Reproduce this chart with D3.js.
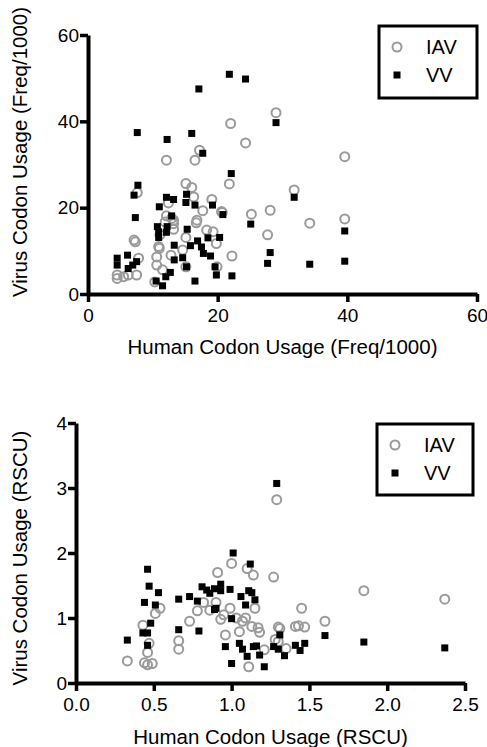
<!DOCTYPE html>
<html>
<head>
<meta charset="utf-8">
<script src="https://cdn.jsdelivr.net/npm/d3@7"></script>
<style>
  body { margin: 0; background: #fff; }
  text { font-family: "Liberation Sans", Arial, sans-serif; fill: #000; }
</style>
</head>
<body>
<svg id="chart" width="487" height="747"></svg>
<script>
// top panel: codon frequency per 1000
const freqIAV = [
  [4.5, 4.4], [4.5, 3.6], [6.2, 4.4], [7.5, 4.4], [7.8, 8.3], [7.3, 12.1], [7.1, 12.5], [7.6, 23.5],
  [12.1, 31.0], [16.5, 31.0], [17.2, 33.3], [22.0, 39.5], [24.3, 35.0], [29.0, 42.0], [21.8, 25.5],
  [15.1, 25.6], [16.0, 24.7], [16.3, 22.5], [17.7, 19.3], [19.1, 21.9], [20.6, 19.1], [25.2, 18.5],
  [28.1, 19.4], [27.7, 13.7], [22.2, 8.8], [12.4, 21.1], [12.1, 18.1], [13.2, 17.1], [13.2, 16.3],
  [13.2, 15.0], [16.8, 17.1], [16.7, 16.5], [18.3, 14.8], [19.3, 14.4], [19.8, 11.7], [15.1, 13.1],
  [11.1, 13.7], [11.0, 10.6], [10.6, 8.6], [12.8, 9.0], [11.5, 5.6], [15.1, 6.3], [19.9, 6.3],
  [14.6, 10.2], [10.3, 2.8], [31.8, 24.1], [34.2, 16.4], [39.6, 31.8], [39.6, 17.4], [10.9, 11.0],
  [10.6, 6.7], [11.9, 16.7], [12.9, 17.5], [5.5, 4.0], [20.7, 18.9]
];
const freqVV = [
  [4.5, 8.3], [4.5, 6.7], [6.1, 9.0], [6.2, 5.9], [6.9, 6.7], [7.5, 7.5], [7.6, 37.4], [7.7, 25.2],
  [7.1, 22.9], [7.3, 17.7], [12.2, 35.8], [16.0, 37.2], [17.1, 47.5], [17.7, 32.6], [21.8, 50.9],
  [24.3, 49.8], [29.0, 39.7], [22.1, 27.9], [11.0, 20.2], [12.1, 22.4], [13.2, 21.9], [15.2, 23.1],
  [15.1, 21.2], [16.5, 20.6], [19.2, 20.6], [20.8, 18.4], [12.9, 18.1], [10.7, 15.6], [10.9, 14.4],
  [10.9, 13.1], [12.2, 15.6], [12.1, 14.3], [15.3, 15.0], [13.3, 11.3], [16.9, 12.3], [15.8, 11.2],
  [17.5, 10.9], [17.8, 9.4], [18.9, 8.8], [18.5, 13.0], [20.3, 13.1], [14.6, 8.4], [13.3, 7.9],
  [15.2, 6.3], [19.6, 6.3], [19.8, 4.4], [22.2, 4.2], [16.5, 3.0], [12.7, 5.0], [12.0, 4.0],
  [10.5, 3.0], [11.5, 1.9], [25.1, 16.2], [28.1, 9.6], [27.7, 7.1], [31.8, 22.4], [34.2, 6.9],
  [39.6, 14.6], [39.6, 7.6]
];

// bottom panel: RSCU
const rscuIAV = [
  [0.33, 0.34], [0.43, 0.89], [0.44, 0.31], [0.46, 0.47], [0.46, 0.28], [0.49, 0.30], [0.47, 0.61],
  [0.51, 1.07], [0.54, 1.15], [0.66, 0.65], [0.66, 0.52], [0.73, 0.95], [0.78, 1.11], [0.82, 1.24],
  [0.86, 1.12], [0.90, 1.24], [0.91, 1.70], [0.93, 0.98], [0.96, 0.74], [0.99, 1.15], [1.00, 1.84],
  [1.05, 0.79], [1.07, 0.95], [1.09, 1.00], [1.10, 1.76], [1.14, 1.66], [1.11, 0.25], [1.15, 1.15],
  [1.13, 0.87], [1.17, 0.85], [1.18, 0.78], [1.21, 0.51], [1.27, 1.63], [1.29, 2.82], [1.30, 0.86],
  [1.28, 0.67], [1.31, 0.84], [1.30, 0.64], [1.35, 0.53], [1.41, 0.87], [1.45, 1.15], [1.43, 0.88],
  [1.47, 0.86], [1.60, 0.95], [1.85, 1.42], [2.37, 1.29], [1.03, 1.00], [0.95, 1.05]
];
const rscuVV = [
  [0.33, 0.66], [0.44, 1.24], [0.46, 1.75], [0.47, 1.49], [0.53, 1.39], [0.51, 1.20], [0.48, 0.92],
  [0.43, 0.77], [0.46, 0.77], [0.46, 0.58], [0.66, 1.29], [0.66, 0.82], [0.73, 1.33], [0.78, 1.26],
  [0.79, 0.80], [0.81, 1.48], [0.84, 1.43], [0.86, 1.38], [0.89, 1.45], [0.93, 1.52], [0.93, 1.42],
  [0.99, 1.44], [0.90, 1.15], [0.89, 1.13], [1.01, 2.00], [1.00, 0.99], [0.96, 0.56], [1.00, 0.30],
  [1.12, 1.83], [1.06, 1.33], [1.11, 1.42], [1.13, 1.39], [1.15, 1.28], [1.09, 1.20], [1.05, 0.61],
  [1.07, 0.52], [1.10, 0.41], [1.14, 0.56], [1.16, 0.57], [1.18, 0.43], [1.21, 0.25], [1.29, 3.07],
  [1.27, 0.56], [1.31, 0.74], [1.30, 0.52], [1.34, 0.42], [1.41, 0.58], [1.44, 0.50], [1.47, 0.61],
  [1.60, 0.73], [1.85, 0.63], [2.37, 0.54]
];

const freqTicks = [0, 20, 40, 60];
const freqYTicks = [0, 20, 40, 60];
const rscuXTicks = [0, 0.5, 1.0, 1.5, 2.0, 2.5];
const rscuYTicks = [0, 1, 2, 3, 4];
const seriesNames = ["IAV", "VV"];

const svg = d3.select("#chart");

function drawPanel(opt) {
  const x = d3.scaleLinear().domain(opt.xDomain).range([opt.left, opt.right]);
  const y = d3.scaleLinear().domain(opt.yDomain).range([opt.bottom, opt.top]);
  const g = svg.append("g");

  const xAxis = g.append("g")
    .attr("transform", "translate(0," + opt.bottom + ")")
    .call(d3.axisBottom(x).tickValues(opt.xTicks).tickFormat(opt.xFormat).tickSize(8).tickSizeOuter(0));
  const yAxis = g.append("g")
    .attr("transform", "translate(" + opt.left + ",0)")
    .call(d3.axisLeft(y).tickValues(opt.yTicks).tickFormat(d3.format("d")).tickSize(8).tickSizeOuter(0));

  [xAxis, yAxis].forEach(a => {
    a.select(".domain").attr("stroke", "#000").attr("stroke-width", 4);
    a.selectAll(".tick line").attr("stroke", "#000").attr("stroke-width", 3.5);
    a.selectAll(".tick text").style("font-size", "19px").style("fill", "#000")
      .style("font-family", "Liberation Sans, Arial, sans-serif");
  });
  xAxis.selectAll(".tick text").attr("y", 10).attr("dy", "0.95em");
  yAxis.selectAll(".tick text").attr("x", -9);

  g.append("text")
    .attr("x", (opt.left + opt.right) / 2)
    .attr("y", opt.xTitleY)
    .attr("text-anchor", "middle")
    .style("font-size", "20.5px")
    .text(opt.xTitle);
  g.append("text")
    .attr("transform", "translate(" + opt.yTitleX + "," + opt.yTitleMid + ")rotate(-90)")
    .attr("text-anchor", "middle")
    .style("font-size", "20.5px")
    .text(opt.yTitle);

  g.append("g").selectAll("circle")
    .data(opt.iav)
    .enter().append("circle")
    .attr("cx", d => x(d[0]))
    .attr("cy", d => y(d[1]))
    .attr("r", 4.5)
    .attr("fill", "none")
    .attr("stroke", "#9a9a9a")
    .attr("stroke-width", 2);

  g.append("g").selectAll("rect")
    .data(opt.vv)
    .enter().append("rect")
    .attr("x", d => x(d[0]) - 3.5)
    .attr("y", d => y(d[1]) - 3.5)
    .attr("width", 7)
    .attr("height", 7)
    .attr("fill", "#000");

  // legend
  const L = opt.legend;
  const lg = g.append("g");
  lg.append("rect")
    .attr("x", L.x).attr("y", L.y).attr("width", L.w).attr("height", L.h)
    .attr("fill", "#fff").attr("stroke", "#000").attr("stroke-width", 3);
  lg.append("circle")
    .attr("cx", L.x + 18).attr("cy", L.y + 21).attr("r", 4.5)
    .attr("fill", "none").attr("stroke", "#9a9a9a").attr("stroke-width", 2);
  lg.append("rect")
    .attr("x", L.x + 18 - 3.5).attr("y", L.y + 49 - 3.5).attr("width", 7).attr("height", 7)
    .attr("fill", "#000");
  seriesNames.forEach((n, i) => {
    lg.append("text")
      .attr("x", L.x + 47)
      .attr("y", L.y + 21 + i * 28)
      .attr("dy", "0.36em")
      .style("font-size", "20px")
      .text(n);
  });
}

drawPanel({
  xDomain: [0, 60], yDomain: [0, 60],
  left: 88, right: 477, top: 35, bottom: 294,
  xTicks: freqTicks, yTicks: freqYTicks, xFormat: d3.format("d"),
  xTitle: "Human Codon Usage (Freq/1000)", xTitleY: 354,
  yTitle: "Virus Codon Usage (Freq/1000)", yTitleX: 27, yTitleMid: 152,
  iav: freqIAV, vv: freqVV,
  legend: { x: 379, y: 26, w: 98, h: 72 }
});

drawPanel({
  xDomain: [0, 2.5], yDomain: [0, 4],
  left: 76, right: 465, top: 423, bottom: 683,
  xTicks: rscuXTicks, yTicks: rscuYTicks, xFormat: d3.format(".1f"),
  xTitle: "Human Codon Usage (RSCU)", xTitleY: 744,
  yTitle: "Virus Codon Usage (RSCU)", yTitleX: 27, yTitleMid: 558,
  iav: rscuIAV, vv: rscuVV,
  legend: { x: 377, y: 424, w: 96, h: 71 }
});
</script>
</body>
</html>
